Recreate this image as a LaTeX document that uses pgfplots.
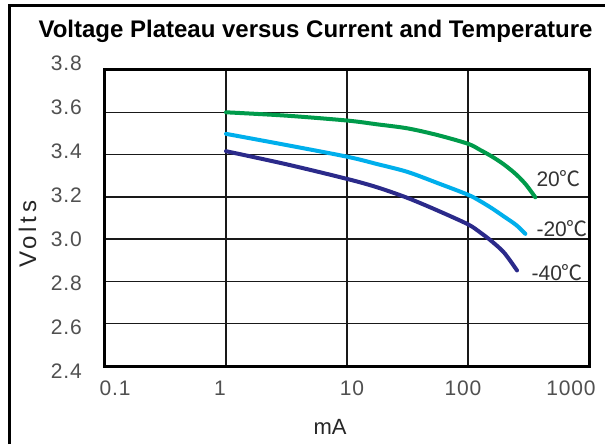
\documentclass[border=0pt]{standalone}
\usepackage{fontspec}
\setmainfont{Liberation Sans}
\newfontfamily\cjk{Noto Sans CJK SC}
\newfontfamily\tickf[LetterSpace=4]{Liberation Sans}
\newfontfamily\voltf[LetterSpace=16]{Liberation Sans}
\usepackage{pgfplots}
\pgfplotsset{compat=1.18}
\definecolor{cgreen}{RGB}{0,155,75}
\definecolor{ccyan}{RGB}{0,175,236}
\definecolor{cnavy}{RGB}{43,42,138}
\definecolor{tickgray}{RGB}{80,80,80}
\newcommand{\shl}[2]{\makebox[0pt]{\hspace*{#1}\hspace*{#1}#2}}
\newcommand{\rl}[2]{\raisebox{#1}[\height][\depth]{#2}}
\begin{document}
\begin{tikzpicture}
\useasboundingbox (0pt,0pt) rectangle (612pt,444pt);
\fill[white] (0pt,0pt) rectangle (612pt,444pt);
\draw[line width=3.5pt] (9.5pt,0pt) -- (9.5pt,438.5pt) -- (605pt,438.5pt);
\node[font=\bfseries\fontsize{24}{28}\selectfont] at (315.5pt,413pt) {Voltage Plateau versus Current and Temperature};
\begin{axis}[at={(105pt,78pt)}, anchor=south west, scale only axis,
  width=484pt, height=296pt,
  xmode=log, xmin=0.1, xmax=1000, ymin=2.4, ymax=3.8,
  xtick={0.1,1,10,100,1000},
  xticklabels={\shl{10pt}{0.1},\shl{-6pt}{1},\shl{5pt}{10},\shl{-5pt}{100},\shl{-18pt}{1000}},
  ytick={2.4,2.6,2.8,3.0,3.2,3.4,3.6,3.8},
  yticklabels={\rl{-5pt}{2.4},\rl{-3.2pt}{2.6},\rl{-1.5pt}{2.8},\rl{0pt}{3.0},\rl{1.9pt}{3.2},\rl{3.6pt}{3.4},\rl{5.3pt}{3.6},\rl{7pt}{3.8}},
  major tick length=0pt, minor tick length=0pt,
  grid=major, major grid style={black!90, line width=1.3pt},
  axis line style={line width=3pt},
  tick label style={font=\tickf\fontsize{21}{24}\selectfont, text=tickgray},
  yticklabel style={anchor=east, inner sep=0pt, xshift=-23pt},
  xticklabel style={anchor=north, inner sep=0pt, yshift=-15pt},
  xlabel={mA},
  xlabel style={at={(axis description cs:0.465,0)}, anchor=center, yshift=-61pt, font=\fontsize{22}{26}\selectfont, text=black!85},
  ylabel={Volts},
  ylabel style={at={(axis description cs:-0.16,0.445)}, anchor=center, font=\voltf\fontsize{24}{28}\selectfont, text=black!85},
  clip=false,
]
\addplot[cgreen, line width=4pt, line cap=round, smooth] coordinates {
 (1,3.600) (3.162,3.584) (10,3.561) (17.78,3.543) (31.62,3.524) (56.23,3.492) (100,3.451) (125.9,3.422) (158.5,3.390) (199.5,3.352) (251.2,3.305) (302,3.257) (359.7,3.198)};
\addplot[ccyan, line width=4pt, line cap=round, smooth] coordinates {
 (1,3.498) (3.162,3.445) (10,3.390) (17.78,3.355) (31.62,3.318) (56.23,3.265) (100,3.210) (125.9,3.180) (158.5,3.145) (199.5,3.106) (251.2,3.066) (297.9,3.025)};
\addplot[cnavy, line width=4pt, line cap=round, smooth] coordinates {
 (1,3.416) (3.162,3.354) (10,3.285) (17.78,3.245) (31.62,3.195) (56.23,3.135) (100,3.070) (125.9,3.032) (158.5,2.988) (199.5,2.935) (254.1,2.852)};
\node[anchor=west, inner sep=0pt, font=\fontsize{21}{24}\selectfont, text=black!80] at (axis cs:367,3.287) {20{\cjk ℃}};
\node[anchor=west, inner sep=0pt, font=\fontsize{21}{24}\selectfont, text=black!80] at (axis cs:367,3.050) {-20{\cjk ℃}};
\node[anchor=west, inner sep=0pt, font=\fontsize{21}{24}\selectfont, text=black!80] at (axis cs:334,2.842) {-40{\cjk ℃}};
\end{axis}
\end{tikzpicture}
\end{document}
